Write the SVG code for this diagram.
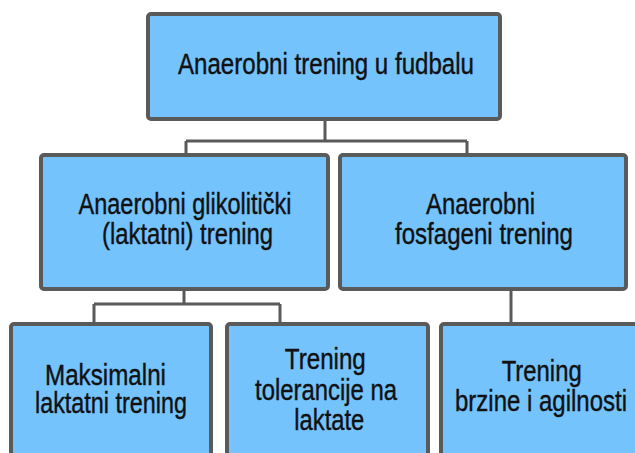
<svg xmlns="http://www.w3.org/2000/svg" width="635" height="453" viewBox="0 0 635 453">
  <style>
    .box { fill: #74C3FD; stroke: #5A5A5A; stroke-width: 4; }
    .conn { fill: none; stroke: #5A5A5A; stroke-width: 3; }
    text { font-family: "Liberation Sans", Arial, sans-serif; font-size: 29px; fill: #111; stroke: #111; stroke-width: 0.4; text-anchor: middle; }
  </style>
  <rect width="635" height="453" fill="#FFFFFF"/>
  <g id="connectors">
    <path class="conn" d="M325,121 V141 M186,141 H467 M186,141 V154 M467,141 V154"/>
    <path class="conn" d="M184,291 V304 M94,304 H280 M94,304 V323 M280,304 V323"/>
    <path class="conn" d="M511,291 V323"/>
  </g>
  <g id="n-root">
    <rect class="box" x="148" y="14" width="352" height="105" rx="3"/>
    <text x="326" y="73.5" textLength="296" lengthAdjust="spacingAndGlyphs">Anaerobni trening u fudbalu</text>
  </g>
  <g id="n-glikoliticki">
    <rect class="box" x="41" y="155" width="287" height="134" rx="3"/>
    <text x="185" y="213.5" textLength="213" lengthAdjust="spacingAndGlyphs">Anaerobni glikolitički</text>
    <text x="187.5" y="244" textLength="171" lengthAdjust="spacingAndGlyphs">(laktatni) trening</text>
  </g>
  <g id="n-fosfageni">
    <rect class="box" x="340" y="155" width="286" height="134" rx="3"/>
    <text x="480.5" y="214" textLength="109" lengthAdjust="spacingAndGlyphs">Anaerobni</text>
    <text x="484" y="243.5" textLength="178" lengthAdjust="spacingAndGlyphs">fosfageni trening</text>
  </g>
  <g id="n-maksimalni">
    <rect class="box" x="11" y="324" width="200" height="150" rx="3"/>
    <text x="105.5" y="384.5" textLength="121" lengthAdjust="spacingAndGlyphs">Maksimalni</text>
    <text x="111" y="412.5" textLength="152" lengthAdjust="spacingAndGlyphs">laktatni trening</text>
  </g>
  <g id="n-tolerancija">
    <rect class="box" x="227" y="324" width="201" height="150" rx="3"/>
    <text x="325.3" y="368.5" textLength="81" lengthAdjust="spacingAndGlyphs">Trening</text>
    <text x="326" y="399.5" textLength="142" lengthAdjust="spacingAndGlyphs">tolerancije na</text>
    <text x="329.3" y="429.5" textLength="70" lengthAdjust="spacingAndGlyphs">laktate</text>
  </g>
  <g id="n-brzina">
    <rect class="box" x="441" y="324" width="220" height="150" rx="3"/>
    <text x="541.7" y="380.5" textLength="80" lengthAdjust="spacingAndGlyphs">Trening</text>
    <text x="541" y="410.5" textLength="172" lengthAdjust="spacingAndGlyphs">brzine i agilnosti</text>
  </g>
</svg>
